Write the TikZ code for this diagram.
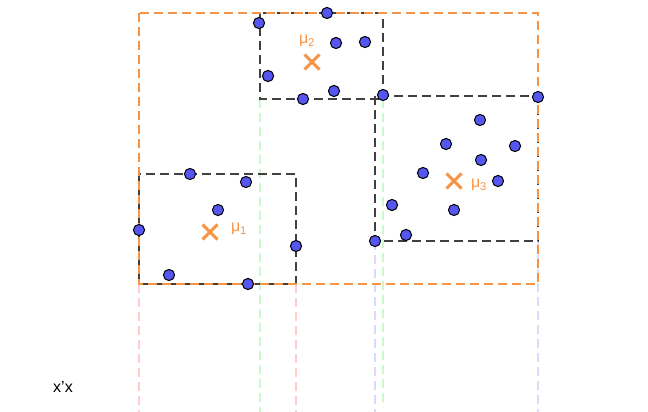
\documentclass[tikz,border=0pt]{standalone}
\usepackage{fontspec}
\setmainfont{Liberation Sans}
\usepackage{tikz}
\definecolor{cam}{RGB}{245,148,70}
\definecolor{diem}{RGB}{85,85,240}
\definecolor{hong}{RGB}{255,205,205}
\definecolor{luc}{RGB}{205,248,205}
\definecolor{tim}{RGB}{218,218,250}
\usetikzlibrary{shapes.misc}

\begin{document}
\begin{tikzpicture}[x=1pt, y=-1pt, font=\fontsize{16}{18}\selectfont]
    \useasboundingbox (0,0) rectangle (648,412);
    % Duong chieu xuong truc
    \draw[hong, line width=2.6pt, dash pattern=on 9pt off 5pt] (139,284) -- (139,412);
    \draw[hong, line width=2.6pt, dash pattern=on 9pt off 5pt] (296,284) -- (296,412);
    \draw[luc, line width=2.6pt, dash pattern=on 9pt off 5pt] (260,99) -- (260,412);
    \draw[luc, line width=2.6pt, dash pattern=on 9pt off 5pt] (383,99) -- (383,407);
    \draw[tim, line width=2.6pt, dash pattern=on 9pt off 5pt] (375,241) -- (375,412);
    \draw[tim, line width=2.6pt, dash pattern=on 9pt off 5pt] (538,241) -- (538,412);
    % Hop bao cua tung cum
    \draw[black!75, line width=2.6pt, dash pattern=on 9pt off 5pt] (139,174) rectangle (296,284);
    \draw[black!75, line width=2.6pt, dash pattern=on 9pt off 5pt] (260,13) rectangle (383,99);
    \draw[black!75, line width=2.6pt, dash pattern=on 9pt off 5pt] (375,96) rectangle (538,241);
    % Hop bao chung
    \draw[cam, line width=2.6pt, dash pattern=on 9pt off 5pt] (139,13) rectangle (538,284);
    % Cac diem du lieu
    \foreach \p in {(190,174),(246,182),(218,210),(139,230),(296,246),(169,275),(248,284),
                    (259,23),(327,13),(336,43),(365,42),(268,76),(303,99),(334,91),(383,95),
                    (538,97),(480,120),(446,144),(515,146),(481,160),(423,173),(498,181),
                    (392,205),(454,210),(406,235),(375,241)}
        \filldraw[fill=diem, draw=black, line width=1pt] \p circle (5.6pt);
    % Tam cum
    \node[cross out, draw=cam, line width=3pt, minimum size=12pt, inner sep=0pt] (m1) at (210,232) {};
    \node[cross out, draw=cam, line width=3pt, minimum size=12pt, inner sep=0pt] (m2) at (312,62) {};
    \node[cross out, draw=cam, line width=3pt, minimum size=12pt, inner sep=0pt] (m3) at (454,181) {};
    \node[cam] (l1) at (239,229) {μ\textsubscript{1}};
    \node[cam] (l2) at (307,41) {μ\textsubscript{2}};
    \node[cam] (l3) at (479,185) {μ\textsubscript{3}};
    % Nhan truc
    \node (x) at (63,387) {x'x};
\end{tikzpicture}
\end{document}
